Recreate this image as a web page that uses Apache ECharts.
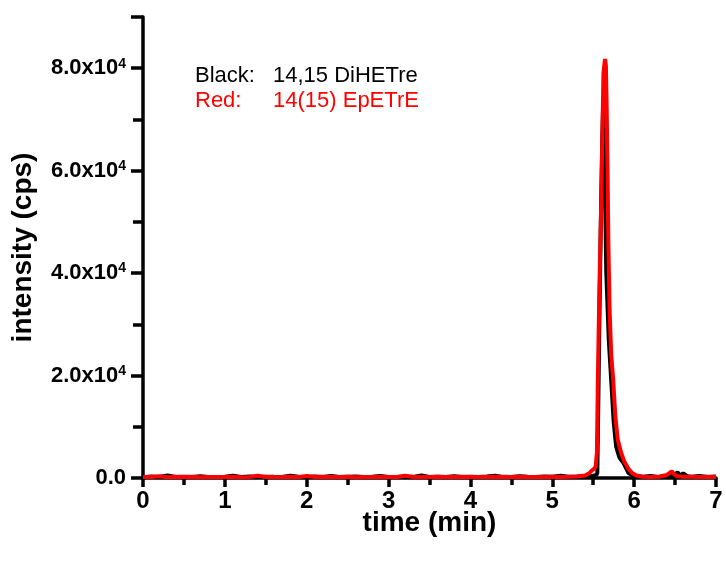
<!DOCTYPE html>
<html><head><meta charset="utf-8">
<script src="https://cdn.jsdelivr.net/npm/echarts@6/dist/echarts.min.js"></script>
<style>html,body{margin:0;padding:0;background:#fff}#c{width:726px;height:565px}</style>
</head><body><div id="c"></div>
<script>
// time (min), intensity (cps)
const blackTrace = [
[0.0,150],[0.1,300],[0.2,220],[0.3,480],[0.4,200],[0.5,260],[0.6,180],[0.7,350],[0.8,210],[0.9,190],
[1.0,240],[1.1,420],[1.2,200],[1.3,310],[1.4,180],[1.5,260],[1.6,220],[1.7,200],[1.8,450],[1.9,230],
[2.0,190],[2.1,280],[2.2,210],[2.3,400],[2.4,180],[2.5,250],[2.6,300],[2.7,200],[2.8,230],[2.9,380],
[3.0,210],[3.1,190],[3.2,260],[3.3,220],[3.4,470],[3.5,200],[3.6,240],[3.7,180],[3.8,330],[3.9,210],
[4.0,260],[4.1,200],[4.2,290],[4.3,450],[4.4,220],[4.5,180],[4.6,350],[4.7,240],[4.8,200],[4.9,300],
[5.0,260],[5.1,420],[5.2,230],[5.3,280],[5.4,350],[5.46,400],[5.5,450],[5.54,600],[5.55,1000],[5.56,12000],
[5.575,30000],[5.595,52000],[5.61,66000],[5.62,72000],[5.63,70000],[5.645,55000],[5.66,40000],[5.69,27000],
[5.72,19000],[5.75,11000],[5.78,6100],[5.82,4000],[5.87,2900],[5.93,1000],[5.98,500],
[6.05,350],[6.1,250],[6.2,380],[6.3,220],[6.4,300],[6.5,700],[6.53,1100],[6.56,500],[6.6,900],[6.65,350],
[6.7,260],[6.8,400],[6.9,220],[7.0,300]
];
const redTrace = [
[0.0,200],[0.1,180],[0.2,350],[0.3,160],[0.4,220],[0.5,190],[0.6,260],[0.7,170],[0.8,210],[0.9,180],
[1.0,200],[1.1,230],[1.2,170],[1.3,190],[1.4,420],[1.5,180],[1.6,210],[1.7,190],[1.8,240],[1.9,200],
[2.0,380],[2.1,190],[2.2,220],[2.3,180],[2.4,200],[2.5,230],[2.6,170],[2.7,210],[2.8,190],[2.9,220],
[3.0,200],[3.1,180],[3.2,450],[3.3,190],[3.4,210],[3.5,180],[3.6,220],[3.7,200],[3.8,190],[3.9,230],
[4.0,180],[4.1,210],[4.2,190],[4.3,220],[4.4,200],[4.5,180],[4.6,230],[4.7,190],[4.8,210],[4.9,200],
[5.0,220],[5.1,190],[5.2,240],[5.3,300],[5.4,500],[5.45,900],[5.48,1400],[5.51,1800],[5.53,2200],[5.545,5000],
[5.557,19000],[5.575,37000],[5.60,55000],[5.615,70000],[5.625,79000],[5.635,80500],[5.645,81800],[5.655,80500],
[5.665,72000],[5.675,60000],[5.685,46000],[5.70,33000],[5.72,24000],[5.745,19000],[5.77,12000],[5.80,7500],
[5.84,5000],[5.88,3200],[5.93,1800],[5.98,900],[6.03,500],
[6.1,250],[6.2,200],[6.3,230],[6.4,600],[6.46,1300],[6.49,700],[6.52,400],[6.6,250],[6.7,220],
[6.8,200],[6.9,230],[7.0,200]
];
const xTickLabels = ['0','1','2','3','4','5','6','7'];
const yTickValues = [0, 20000, 40000, 60000, 80000];
const xName = 'time (min)';
const yName = 'intensity (cps)';
const legendBlack = ['Black:', '14,15 DiHETre'];
const legendRed = ['Red:', '14(15) EpETrE'];

const FONT = '"Liberation Sans", Arial, sans-serif';
const chart = echarts.init(document.getElementById('c'), null, {renderer:'canvas'});
chart.setOption({
  animation: false,
  backgroundColor: '#fff',
  grid: {left: 143, right: 10, top: 17, bottom: 87, containLabel: false, outerBoundsMode: 'none'},
  xAxis: {
    type: 'value', min: 0, max: 7, interval: 1,
    name: xName, nameLocation: 'middle', nameGap: 31, nameMoveOverlap: false,
    nameTextStyle: {fontFamily: FONT, fontWeight: 'bold', fontSize: 28, color: '#000', verticalAlign: 'top'},
    axisLine: {show: true, onZero: false, lineStyle: {color: '#000', width: 3.5}},
    axisTick: {show: true, length: 9, lineStyle: {color: '#000', width: 3.5}},
    minorTick: {show: true, splitNumber: 2, length: 7, lineStyle: {color: '#000', width: 3.5}},
    splitLine: {show: false},
    axisLabel: {margin: 11, fontFamily: FONT, fontWeight: 'bold', fontSize: 24, color: '#000',
      formatter: v => xTickLabels[Math.round(v)] }
  },
  yAxis: {
    type: 'value', min: 0, max: 90000, interval: 20000,
    name: yName, nameLocation: 'middle', nameGap: 106, nameRotate: 90, nameMoveOverlap: false,
    nameTextStyle: {fontFamily: FONT, fontWeight: 'bold', fontSize: 28, color: '#000'},
    axisLine: {show: true, lineStyle: {color: '#000', width: 3.5}},
    axisTick: {show: true, length: 12, lineStyle: {color: '#000', width: 3.5}},
    minorTick: {show: true, splitNumber: 2, length: 10, lineStyle: {color: '#000', width: 3.5}},
    splitLine: {show: false},
    axisLabel: {margin: 17,
      formatter: v => {
        if (yTickValues.indexOf(v) < 0) return '';
        if (v === 0) return '{b|0.0}';
        return '{b|' + (v/1e4).toFixed(1) + 'x10}{s|4}';
      },
      rich: {
        b: {fontFamily: FONT, fontWeight: 'bold', fontSize: 22, color: '#000'},
        s: {fontFamily: FONT, fontWeight: 'bold', fontSize: 14, color: '#000', padding: [0,0,9,0]}
      }
    }
  },
  series: [
    {type: 'line', data: blackTrace, showSymbol: false, symbol: 'none', lineStyle: {color: '#000', width: 4}, z: 2},
    {type: 'line', data: redTrace, showSymbol: false, symbol: 'none', lineStyle: {color: '#ff0000', width: 4}, z: 3}
  ],
  graphic: [
    {type: 'text', left: 195, top: 65, style: {text: legendBlack[0], fill: '#000', font: '22px "Liberation Sans", Arial, sans-serif'}},
    {type: 'text', left: 273, top: 65, style: {text: legendBlack[1], fill: '#000', font: '22px "Liberation Sans", Arial, sans-serif'}},
    {type: 'text', left: 195, top: 90, style: {text: legendRed[0], fill: '#ff0000', font: '22px "Liberation Sans", Arial, sans-serif'}},
    {type: 'text', left: 273, top: 90, style: {text: legendRed[1], fill: '#ff0000', font: '22px "Liberation Sans", Arial, sans-serif'}}
  ]
});
</script></body></html>
